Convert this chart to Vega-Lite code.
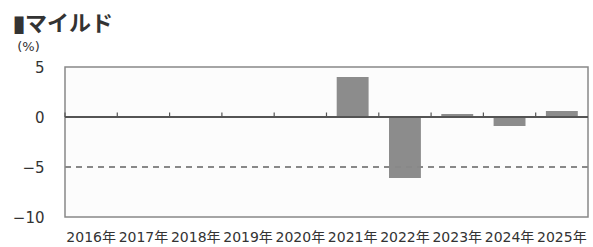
{
  "$schema": "https://vega.github.io/schema/vega-lite/v6.json",
  "width": 523,
  "height": 150,
  "autosize": {"type": "none"},
  "padding": {"left": 65, "top": 67, "right": 5, "bottom": 30},
  "background": "white",
  "title": {
    "text": "▮マイルド",
    "anchor": "start",
    "frame": "group",
    "fontSize": 22,
    "fontWeight": "bold",
    "font": "Noto Sans CJK JP",
    "color": "#333333",
    "dx": -52
  },
  "config": {
    "view": {"stroke": "#888888", "strokeWidth": 1.5, "fill": "#fcfcfc"},
    "font": "DejaVu Sans, Noto Sans CJK JP"
  },
  "data": {
    "values": [
      {"year": "2016年", "value": null},
      {"year": "2017年", "value": null},
      {"year": "2018年", "value": null},
      {"year": "2019年", "value": null},
      {"year": "2020年", "value": null},
      {"year": "2021年", "value": 4.0},
      {"year": "2022年", "value": -6.1},
      {"year": "2023年", "value": 0.3},
      {"year": "2024年", "value": -0.9},
      {"year": "2025年", "value": 0.6}
    ]
  },
  "layer": [
    {
      "mark": {"type": "bar", "color": "#8c8c8c"},
      "encoding": {
        "x": {
          "field": "year",
          "type": "ordinal",
          "scale": {"paddingInner": 0.39, "paddingOuter": 0.195},
          "axis": {
            "title": null,
            "orient": "bottom",
            "ticks": false,
            "domain": false,
            "labelAngle": 0,
            "labelFontSize": 14,
            "labelColor": "#333333",
            "labelPadding": 13,
            "labelFont": "DejaVu Sans, Noto Sans CJK JP"
          }
        },
        "y": {
          "field": "value",
          "type": "quantitative",
          "scale": {"domain": [-10, 5], "nice": false, "zero": true},
          "axis": {
            "values": [5, 0, -5, -10],
            "ticks": false,
            "domain": false,
            "grid": false,
            "labelFontSize": 15,
            "labelColor": "#333333",
            "labelPadding": 21,
            "title": "(%)",
            "titleAngle": 0,
            "titleX": -37,
            "titleY": -21,
            "titleAlign": "center",
            "titleBaseline": "middle",
            "titleFontSize": 13,
            "titleFontWeight": "normal",
            "titleColor": "#333333"
          }
        }
      }
    },
    {
      "mark": {"type": "rule", "strokeDash": [6, 5], "color": "#888888", "strokeWidth": 1.3},
      "encoding": {"y": {"datum": -5}}
    },
    {
      "mark": {"type": "rule", "color": "#555555", "strokeWidth": 1.3},
      "encoding": {"y": {"datum": 0}}
    },
    {
      "mark": {"type": "rule", "color": "#555555", "strokeWidth": 1.2},
      "encoding": {
        "x": {"field": "year", "type": "ordinal", "bandPosition": -0.32},
        "y": {"datum": 0},
        "y2": {"datum": 0.45}
      }
    }
  ]
}
